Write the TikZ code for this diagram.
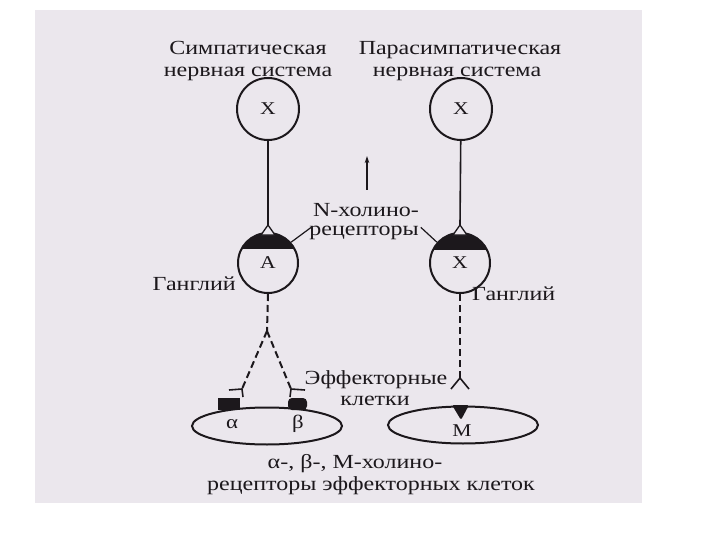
\documentclass[tikz,border=0pt]{standalone}
\usepackage{fontspec}
\setmainfont[FakeStretch=1.2]{Liberation Serif}
\usetikzlibrary{shapes.geometric,arrows.meta,positioning,calc}
\definecolor{paper}{RGB}{235,231,237}
\definecolor{ink}{RGB}{28,24,28}

\begin{document}
\begin{tikzpicture}[x=1pt, y=-1pt,
    neuron/.style={circle, draw=ink, line width=2pt, minimum size=62pt, inner sep=0pt, font=\fontsize{18}{20}\selectfont, text=ink},
    ganglion/.style={circle, draw=ink, line width=2pt, minimum size=60pt, inner sep=0pt, font=\fontsize{18}{20}\selectfont, text=ink},
    cell/.style={ellipse, draw=ink, line width=2pt, minimum width=150pt, minimum height=37pt, inner sep=0pt},
    lbl/.style={font=\fontsize{20}{22}\selectfont, inner sep=0pt, anchor=base, text=ink},
    axon/.style={draw=ink, line width=1.6pt},
    postaxon/.style={draw=ink, line width=2pt, dash pattern=on 7pt off 4pt},
    blackcap/.style={fill=ink},
    term/.style={draw=ink, fill=paper, line width=1.3pt, line join=round}
]
    \useasboundingbox (0,0) rectangle (720,540);
    \fill[paper] (35,10) rectangle (642,503);

    % Titles
    \node[lbl] (symT1) at (248,55) {Симпатическая};
    \node[lbl] (symT2) at (248,77) {нервная система};
    \node[lbl] (parT1) at (460,55) {Парасимпатическая};
    \node[lbl] (parT2) at (457,77) {нервная система};

    % Black caps of the ganglia (N-receptors)
    \begin{scope}
        \clip (268,263) circle[radius=30pt];
        \fill[blackcap] (230,230) rectangle (306,249);
    \end{scope}
    \begin{scope}
        \clip (460,263) circle[radius=30pt];
        \fill[blackcap] (422,230) rectangle (498,250);
    \end{scope}

    % Preganglionic neurons
    \node[neuron] (symX) at (268,109) {Х};
    \node[neuron] (parX) at (461,109) {Х};

    % Ganglia
    \node[ganglion] (symG) at (268,263) {А};
    \node[ganglion] (parG) at (460,263) {Х};

    % Synaptic endings on the ganglia
    \coordinate (symS) at (268,225);
    \coordinate (parS) at (460,225);
    \draw[axon] (symX) -- (symS);
    \draw[axon] (parX) -- (parS);
    \draw[term] (symS) -- ++(-7,10) -- ++(14,0) -- cycle;
    \draw[term] (parS) -- ++(-7,10) -- ++(14,0) -- cycle;

    % Middle arrow
    \coordinate (arrTail) at (367,190);
    \coordinate (arrTip) at (367,156);
    \draw[axon, line width=1.3pt, -{Stealth[length=7pt,width=4.5pt]}] (arrTail) -- (arrTip);

    % N-receptor label
    \node[lbl] (nrec1) at (366,217) {N-холино-};
    \node[lbl] (nrec2) at (364,236) {рецепторы};
    \draw[axon, line width=1.2pt] ($(nrec2.north west)+(2,1)$) -- (symG.42);
    \draw[axon, line width=1.2pt] ($(nrec2.north east)+(2,1)$) -- (parG.138);

    % Ganglion labels
    \node[lbl, anchor=base east] (symGl) at (236,290) {Ганглий};
    \node[lbl, anchor=base west] (parGl) at (472,300) {Ганглий};

    % Postganglionic fibres
    \coordinate (forkA) at (267,331);
    \coordinate (endAl) at (242,389);
    \coordinate (endAr) at (291,389);
    \draw[postaxon] (symG.south) -- (forkA);
    \draw[postaxon] (forkA) -- (endAl);
    \draw[postaxon] (forkA) -- (endAr);
    \draw[axon] (229,390) -- (endAl) -- ++(1,8);
    \draw[axon] (305,390) -- (endAr) -- ++(-1,8);

    \coordinate (forkM) at (460,378);
    \draw[postaxon] (parG.south) -- (forkM);
    \draw[axon] ($(forkM)+(-9,11)$) -- (forkM) -- ++(9,11);

    % Effector cells
    \node[cell] (cellA) at (267,426) {};
    \node[cell] (cellM) at (463,425) {};
    \node[lbl, anchor=center, font=\fontsize{19}{20}\selectfont] (alpha) at (232,424) {α};
    \node[lbl, anchor=center, font=\fontsize{19}{20}\selectfont] (beta) at (298,424) {β};
    \node[lbl, anchor=center, font=\fontsize{18}{20}\selectfont] (mrec) at (462,431) {М};

    % Receptors on the cells
    \fill[blackcap] (218,398) rectangle (240,410);
    \fill[blackcap, rounded corners=4pt] (288,410) -- (288,398) -- (307,398) -- (307,410) -- cycle;
    \fill[blackcap, rounded corners=1.5pt] (452,405) -- (469,405) -- (461,420) -- cycle;

    \node[lbl] (eff1) at (376,384) {Эффекторные};
    \node[lbl] (eff2) at (375,405) {клетки};

    % Bottom caption
    \node[lbl] (cap1) at (355,468) {α-, β-, М-холино-};
    \node[lbl] (cap2) at (371,490) {рецепторы эффекторных клеток};
\end{tikzpicture}
\end{document}
